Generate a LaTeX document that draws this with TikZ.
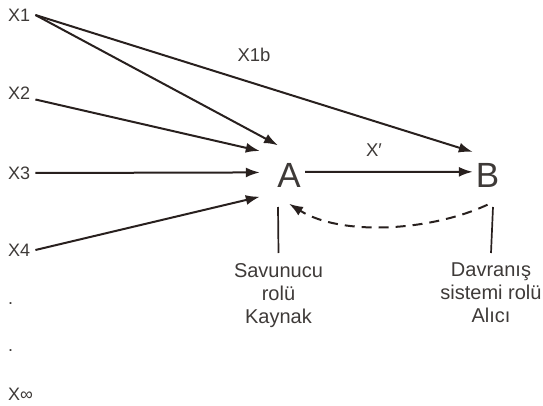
\documentclass[tikz,border=0pt]{standalone}
\usepackage{fontspec}
\setmainfont{Liberation Sans}
\usetikzlibrary{arrows.meta}
\definecolor{ink}{RGB}{40,32,30}
\definecolor{txt}{RGB}{62,58,56}
\tikzset{
  flow/.style={draw=ink, line width=2pt, -{Latex[length=14pt,width=10pt]}},
  stem/.style={draw=ink, line width=1.7pt},
  var/.style={text=txt, font=\fontsize{18}{22}\selectfont, inner xsep=5pt, inner ysep=0pt, anchor=west},
  tag/.style={text=txt, font=\fontsize{18.5}{22}\selectfont, inner sep=0pt},
  role/.style={text=txt, align=center, font=\fontsize{20}{23}\selectfont, inner xsep=0pt, inner ysep=10pt, anchor=north},
  pole/.style={text=txt, font=\fontsize{35}{40}\selectfont, inner sep=0pt},
}
\begin{document}
\begin{tikzpicture}[x=1pt, y=1pt]
        \useasboundingbox (0,0) rectangle (543,-406);
        \node[var] (x1) at (3,-15) {X1};
        \node[var] (x2) at (3,-93) {X2};
        \node[var] (x3) at (3,-173) {X3};
        \node[var] (x4) at (3,-250) {X4};
        \node[var] (d1) at (3,-304) {.};
        \node[var] (d2) at (3,-351) {.};
        \node[var] (xn) at (3,-394) {X∞};
        \node[pole, minimum width=58pt, minimum height=60pt] (A) at (289,-175.5) {A};
        \node[pole, minimum width=29pt, minimum height=58pt] (B) at (487.5,-175.5) {B};
        \node[tag] (lx1b) at (254,-55) {X1b};
        \node[tag] (lxp) at (374,-150) {X′};
        \node[role] (rA) at (278.5,-253) {Savunucu\\rolü\\Kaynak};
        \node[role] (rB) at (491,-253) {Davranış\\sistemi rolü\\Alıcı};
        \coordinate (sA) at (278,-207);
        \coordinate (sB) at (493,-207);
        \draw[flow] (x1.east) -- (A.110);
        \draw[flow] (x1.east) -- (B.122);
        \draw[flow] (x2.south east) -- (A.140);
        \draw[flow] (x3.east) -- (A.174);
        \draw[flow] (x4.east) -- (A.216);
        \draw[flow] ([xshift=16pt,yshift=3.5pt]A.center) -- (B.166);
        \draw[flow, dash pattern=on 10pt off 7pt] (B.south) to[out=-155, in=-32, looseness=0.8] ([yshift=2pt]A.south);
        \draw[stem] (sA) -- (rA.north);
        \draw[stem] (sB) -- (rB.north);
\end{tikzpicture}
\end{document}
